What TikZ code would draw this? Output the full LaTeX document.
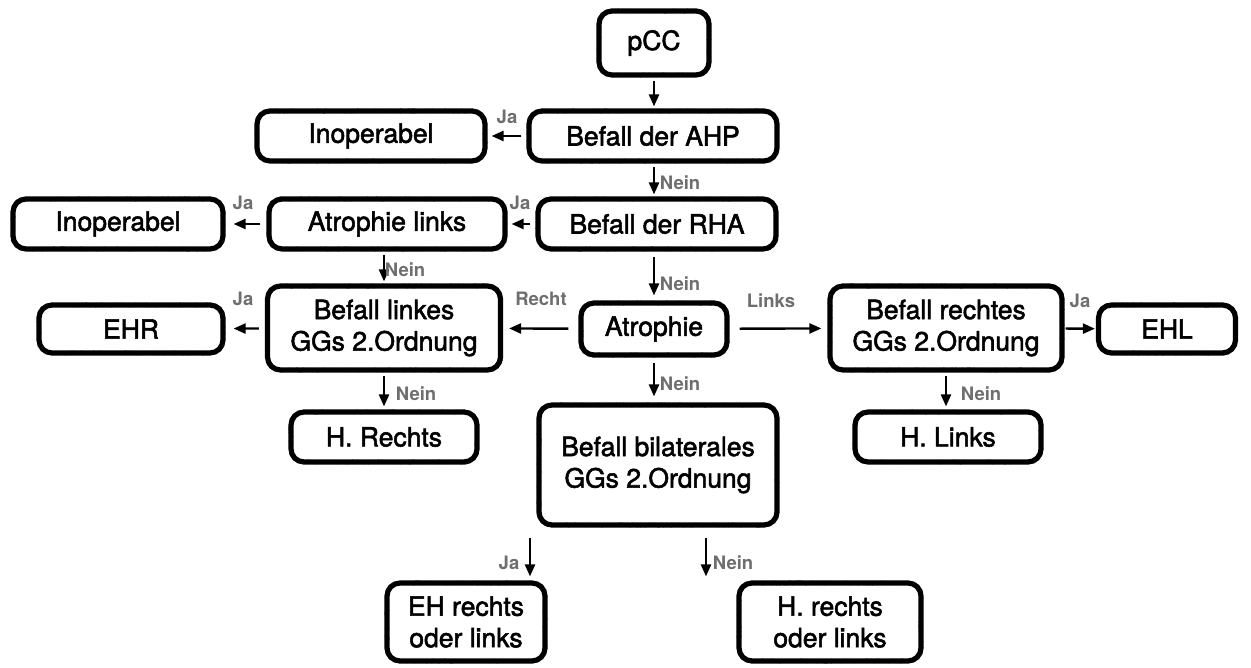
\documentclass[tikz,border=0pt]{standalone}
\usepackage{fontspec}
\setmainfont{TeX Gyre Heros}
\newfontfamily\boxfont{TeX Gyre Heros}[FakeBold=2]
\usetikzlibrary{decorations.pathmorphing,arrows.meta,calc}
\definecolor{lblgray}{HTML}{6E6E6E}
\tikzset{
  box/.style={draw=black, line width=5.2pt, rounded corners=13pt, align=center,
    inner sep=0pt, font=\boxfont\fontsize{26.5}{31.5}\selectfont,
    postaction={draw=black, line width=1.4pt, sharp corners, line join=round, line cap=round, decorate,
      decoration={random steps, segment length=1.1pt, amplitude=1.8pt}}},
  arr/.style={-{Triangle[length=12pt,width=10pt]}, line width=2.4pt},
  lbl/.style={text=lblgray, font=\fontsize{18.5}{20}\selectfont\bfseries, inner sep=0pt}
}
\begin{document}
\begin{tikzpicture}[x=1pt,y=-1pt]
\useasboundingbox (0,0) rectangle (1251,668);
% nodes
\node[box, minimum width=110pt, minimum height=64pt] (pcc) at (654,43) {pCC};
\node[box, minimum width=248pt, minimum height=50pt] (ahp) at (653,136) {Befall der AHP};
\node[box, minimum width=228pt, minimum height=50pt] (inop1) at (371,136) {Inoperabel};
\node[box, minimum width=238pt, minimum height=50pt] (rha) at (657,224) {Befall der RHA};
\node[box, minimum width=236pt, minimum height=50pt] (al) at (387,224) {Atrophie links};
\node[box, minimum width=210pt, minimum height=50pt] (inop2) at (118,224) {Inoperabel};
\node[box, minimum width=233pt, minimum height=84pt] (bl) at (384,328) {Befall linkes\\GGs 2.Ordnung};
\node[box, minimum width=184pt, minimum height=48pt] (ehr) at (131,329) {EHR};
\node[box, minimum width=146pt, minimum height=52pt] (atr) at (654,329) {Atrophie};
\node[box, minimum width=232pt, minimum height=84pt] (br) at (946,328) {Befall rechtes\\GGs 2.Ordnung};
\node[box, minimum width=137pt, minimum height=48pt] (ehl) at (1167,329) {EHL};
\node[box, minimum width=186pt, minimum height=50pt] (hr) at (384,437) {H. Rechts};
\node[box, minimum width=238pt, minimum height=120pt] (bil) at (658,465) {Befall bilaterales\\GGs 2.Ordnung};
\node[box, minimum width=186pt, minimum height=50pt] (hl) at (948,437) {H. Links};
\node[box, minimum width=158pt, minimum height=78pt] (eh) at (466,622) {EH rechts\\oder links};
\node[box, minimum width=182pt, minimum height=78pt] (hrl) at (830,622) {H. rechts\\oder links};
\coordinate (j1) at (530,538);
\coordinate (n1) at (706,538);
% connectors
\draw[arr, shorten <=3pt, shorten >=2pt] (pcc.south) -- (ahp.north -| pcc.south);
\draw[arr, shorten <=5pt, shorten >=4pt] (ahp) -- (inop1);
\draw[arr, shorten <=3pt, shorten >=2pt] (ahp.south -| pcc.south) -- (rha.north -| pcc.south);
\draw[arr, shorten <=5pt, shorten >=4pt] (rha) -- (al);
\draw[arr, shorten <=6pt, shorten >=8pt] (al) -- (inop2);
\draw[arr, shorten <=3pt, shorten >=2pt] (al.south -| bl.north) -- (bl.north);
\draw[arr, shorten <=5pt, shorten >=5pt] (rha.south -| pcc.south) -- (atr.north);
\draw[arr, shorten <=10pt, shorten >=6pt] (atr) -- (bl);
\draw[arr, shorten <=10pt, shorten >=6pt] (atr) -- (br);
\draw[arr, shorten <=6pt, shorten >=8pt] (bl) -- (ehr);
\draw[arr, shorten <=1pt, shorten >=1pt] (br) -- (ehl);
\draw[arr, shorten <=3pt, shorten >=3pt] (bl.south) -- (hr.north -| bl.south);
\draw[arr, shorten <=3pt, shorten >=3pt] (br.south) -- (hl.north -| br.south);
\draw[arr, shorten <=5pt, shorten >=6pt] (atr.south) -- (bil.north -| atr.south);
\draw[arr, shorten >=4pt] (j1) -- (j1 |- eh.north);
\draw[arr, shorten >=4pt] (n1) -- (n1 |- hrl.north);
% labels
\node[lbl] (l1) at (507,117) {Ja};
\node[lbl] (l2) at (680,183) {Nein};
\node[lbl] (l3) at (520,203) {Ja};
\node[lbl] (l4) at (243,203) {Ja};
\node[lbl] (l5) at (405,270) {Nein};
\node[lbl] (l6) at (680,284) {Nein};
\node[lbl] (l7) at (541,299) {Recht};
\node[lbl] (l8) at (771,301) {Links};
\node[lbl] (l9) at (243,299) {Ja};
\node[lbl] (l10) at (1080,301) {Ja};
\node[lbl] (l11) at (416,394) {Nein};
\node[lbl] (l12) at (981,394) {Nein};
\node[lbl] (l13) at (680,384) {Nein};
\node[lbl] (l14) at (509,563) {Ja};
\node[lbl] (l15) at (733,563) {Nein};
\end{tikzpicture}
\end{document}
